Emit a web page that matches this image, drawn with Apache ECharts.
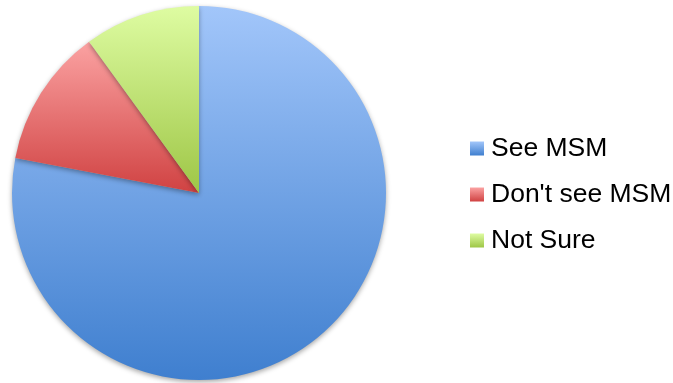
<!DOCTYPE html>
<html><head><meta charset="utf-8">
<script src="https://cdn.jsdelivr.net/npm/echarts@6/dist/echarts.min.js"></script>
<style>html,body{margin:0;padding:0;background:#fff}#c{width:673px;height:383px}</style>
</head><body><div id="c"></div>
<script>
const categories = ["See MSM", "Don't see MSM", "Not Sure"];
const values = [78, 12, 10];
const topColors = ["#a2c6fa", "#fba2a2", "#defca2"];
const bottomColors = ["#3f7fcf", "#d04242", "#9ec646"];

const chart = echarts.init(document.getElementById('c'));
const grad = (i) => new echarts.graphic.LinearGradient(0, 0, 0, 1, [
  {offset: 0, color: topColors[i]}, {offset: 1, color: bottomColors[i]}
]);
chart.setOption({
  animation: false,
  legend: {
    orient: 'vertical',
    left: 470,
    top: 134,
    padding: 0,
    itemWidth: 14,
    itemHeight: 14,
    itemGap: 17,
    icon: 'rect',
    textStyle: {fontFamily: 'Liberation Sans, Arial, sans-serif', fontSize: 26.5, color: '#000', lineHeight: 29, padding: [0, 0, 0, 2]},
    data: categories
  },
  series: [{
    type: 'pie',
    center: [199, 193],
    radius: 187,
    startAngle: 90,
    clockwise: true,
    label: {show: false},
    labelLine: {show: false},
    emphasis: {disabled: true},
    data: categories.map((n, i) => ({
      name: n, value: values[i],
      itemStyle: {color: grad(i), borderWidth: 0, shadowBlur: 5, shadowOffsetY: 2, shadowColor: 'rgba(0,0,0,0.35)'}
    }))
  }]
});
</script></body></html>
